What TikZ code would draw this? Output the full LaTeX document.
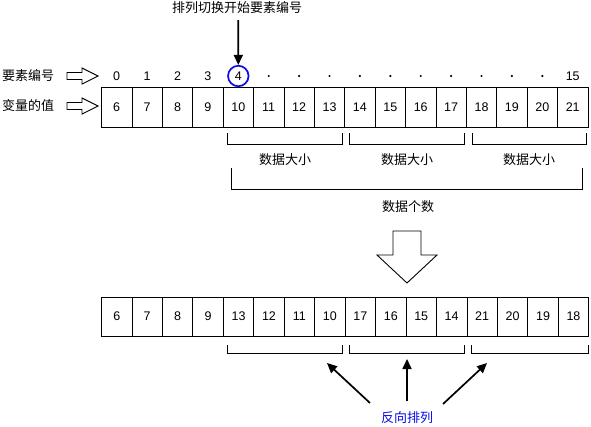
\documentclass[tikz,border=0pt]{standalone}
\usepackage{fontspec}
\setmainfont{Liberation Sans}
\newfontfamily\cjk{Noto Sans CJK SC}
\usetikzlibrary{arrows.meta,calc}
\definecolor{labblue}{RGB}{10,10,235}
\begin{document}
\begin{tikzpicture}[x=1pt,y=-1pt,
  cell/.style={draw=black,line width=0.8pt,minimum width=30.4pt,minimum height=40pt,inner sep=0pt,font=\fontsize{12.5}{12.5}\selectfont},
  idx/.style={inner sep=0pt,font=\fontsize{12.5}{12.5}\selectfont},
  dotn/.style={circle,fill=black,inner sep=0pt,minimum size=2.4pt},
  cn/.style={inner sep=0pt,font=\cjk\fontsize{13}{13}\selectfont},
  brk/.style={draw=black,line width=0.8pt},
  hollow/.style={draw=black,line width=0.9pt,fill=white},
  bigarr/.style={line width=1.7pt,-{Triangle[length=10pt,width=9pt]}}
]
\useasboundingbox (0,0) rectangle (591,426);
% top array
\foreach \v [count=\i from 0] in {6,7,8,9,10,11,12,13,14,15,16,17,18,19,20,21}{
  \node[cell] (t\i) at ({101.5+30.4*(\i+0.5)},107) {\v};
}
% bottom array
\foreach \v [count=\i from 0] in {6,7,8,9,13,12,11,10,17,16,15,14,21,20,19,18}{
  \node[cell,minimum height=39pt,minimum width=30.45pt] (b\i) at ({101.5+30.45*(\i+0.5)},316.5) {\v};
}
% index labels
\foreach \i in {0,1,2,3}{
  \node[idx] (n\i) at ({101.5+30.4*(\i+0.5)},76) {\i};
}
\node[idx] (n4) at ({101.5+30.4*4.5},76) {4};
\node[circle,draw=labblue,line width=1.7pt,minimum size=20.5pt,inner sep=0pt] (c4) at (n4) {};
\foreach \i in {5,...,14}{
  \node[dotn] (n\i) at ({101.5+30.4*(\i+0.5)},76) {};
}
\node[idx] (n15) at ({101.5+30.4*15.5},76) {15};
% top label and arrow
\node[cn] (toplab) at (237,8) {排列切换开始要素编号};
\coordinate (ta) at (238.3,20);
\draw[bigarr] (ta) -- (c4.north);
% left labels
\node[cn] (lab1) at (28,76) {要素编号};
\node[cn] (lab2) at (28,106) {变量的值};
\foreach \yy in {76,106}{
  \draw[hollow] (67,\yy-3.5) -- (82,\yy-3.5) -- (82,\yy-8) -- (98,\yy) -- (82,\yy+8) -- (82,\yy+3.5) -- (67,\yy+3.5) -- cycle;
}
% top brackets
\draw[brk] (227,133) -- (227,144) -- (342,144) -- (342,133);
\draw[brk] (349,133) -- (349,144) -- (464,144) -- (464,133);
\draw[brk] (472,133) -- (472,144) -- (586,144) -- (586,133);
\node[cn] (s1) at (285,160) {数据大小};
\node[cn] (s2) at (407,160) {数据大小};
\node[cn] (s3) at (529,160) {数据大小};
% big bracket
\draw[brk] (231,168) -- (231,189) -- (582,189) -- (582,168);
\node[cn] (cnt) at (408,207) {数据个数};
% big hollow arrow
\draw[hollow] (393,231) -- (421,231) -- (421,255) -- (437,255) -- (407,283) -- (377,255) -- (393,255) -- cycle;
% bottom brackets
\draw[brk] (227,345) -- (227,353) -- (342,353) -- (342,345);
\draw[brk] (349,345) -- (349,353) -- (464,353) -- (464,345);
\draw[brk] (471,345) -- (471,353) -- (588,353) -- (588,345);
% reverse label and arrows
\node[cn,text=labblue] (rev) at (407,418) {反向排列};
\coordinate (a1) at (327,363);
\coordinate (a2) at (407,359);
\coordinate (a3) at (487,363);
\draw[bigarr] (370,403) -- (a1);
\draw[bigarr] (407,401) -- (a2);
\draw[bigarr] (443,404) -- (a3);
\end{tikzpicture}
\end{document}
